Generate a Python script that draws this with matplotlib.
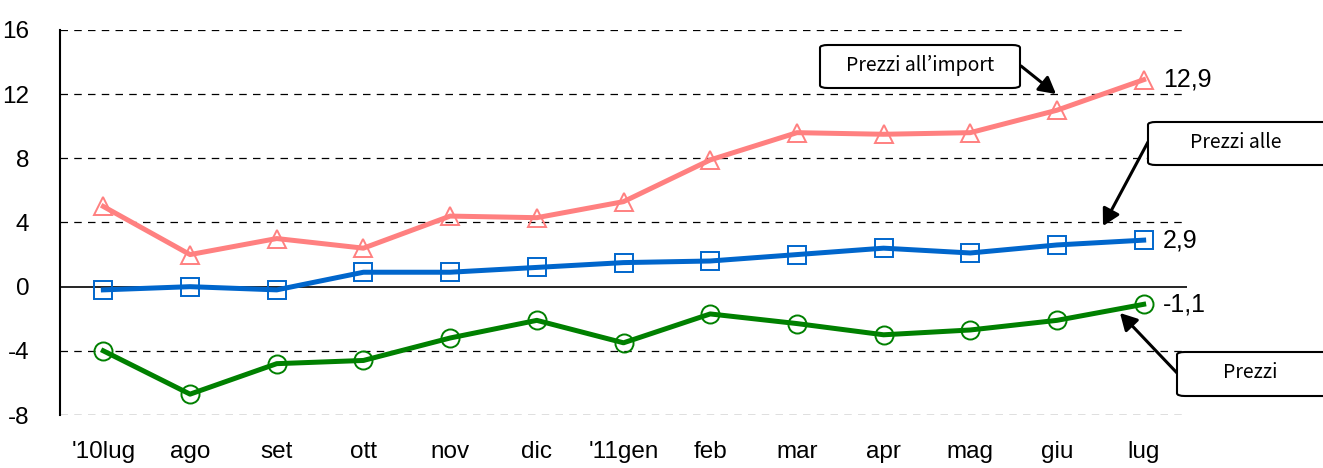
import matplotlib.pyplot as plt
from matplotlib.patches import FancyBboxPatch
from matplotlib.transforms import Bbox

months = ["'10lug", "ago", "set", "ott", "nov", "dic", "'11gen",
          "feb", "mar", "apr", "mag", "giu", "lug"]
import_prices = [5.0, 2.0, 3.0, 2.4, 4.4, 4.3, 5.3, 7.9, 9.6, 9.5, 9.6, 11.0, 12.9]
producer_prices = [-0.2, 0.0, -0.2, 0.9, 0.9, 1.2, 1.5, 1.6, 2.0, 2.4, 2.1, 2.6, 2.9]
export_prices = [-4.0, -6.7, -4.8, -4.6, -3.2, -2.1, -3.5, -1.7, -2.3, -3.0, -2.7, -2.1, -1.1]
yticks = [16, 12, 8, 4, 0, -4, -8]

W, H = 1323, 468
plt.rcParams['font.family'] = ['Liberation Sans', 'DejaVu Sans']

fig = plt.figure(figsize=(W / 100, H / 100), dpi=100)
ax = fig.add_axes([60 / W, 1 - 415 / H, (1187 - 60) / W, (415 - 30) / H])

x = list(range(len(months)))
ax.plot(x, import_prices, color='#FF8080', lw=3.6, marker='^', ms=13,
        mfc='none', mec='#FF8080', mew=1.4, zorder=3)
ax.plot(x, producer_prices, color='#0066CC', lw=3.6, marker='s', ms=13,
        mfc='none', mec='#0066CC', mew=1.4, zorder=3)
ax.plot(x, export_prices, color='#008000', lw=3.6, marker='o', ms=13,
        mfc='none', mec='#008000', mew=1.4, zorder=3)

ax.set_xlim(-0.5, len(months) - 0.5)
ax.set_ylim(-8, 16)
ax.set_yticks(yticks)
ax.set_yticklabels([str(v) for v in yticks])
ax.set_xticks(x)
ax.set_xticklabels(months)
ax.tick_params(axis='both', length=0, labelsize=17.5)
ax.tick_params(axis='y', pad=22)
ax.tick_params(axis='x', pad=19)

for v in yticks:
    if v == 0:
        ax.axhline(0, color='black', lw=1.2, zorder=2)
    else:
        ax.axhline(v, color='black', lw=0.9, dashes=(6, 5), zorder=1)

for s in ['top', 'right', 'bottom']:
    ax.spines[s].set_visible(False)
ax.spines['left'].set_linewidth(1.5)

# end values
ax.text(12.22, import_prices[-1], "12,9", fontsize=18, va='center', ha='left')
ax.text(12.22, producer_prices[-1], "2,9", fontsize=18, va='center', ha='left')
ax.text(12.22, export_prices[-1], "-1,1", fontsize=18, va='center', ha='left')


def fpx(px, py):
    return px / W, 1 - py / H


def callout(x0, y0, x1, y1, line1, line2, start, tip):
    box = FancyBboxPatch(fpx(x0, y1), (x1 - x0) / W, (y1 - y0) / H,
                         boxstyle="round,pad=0,rounding_size=0.006",
                         transform=fig.transFigure, fc='white', ec='black',
                         lw=1.5, zorder=5)
    fig.patches.append(box)
    cx = (x0 + min(x1, W)) / 2
    fig.text(*fpx(cx, y0 + 20), line1, fontsize=14, ha='center',
             va='center', zorder=6, family=['Noto Sans CJK JP', 'DejaVu Sans'])
    if line2:
        t = fig.text(*fpx(cx, y0 + 54), line2, fontsize=14, ha='center',
                     va='center', zorder=6,
                     family=['Noto Sans CJK JP', 'DejaVu Sans'])
        t.set_clip_box(Bbox([[x0, H - y1 + 2], [x1, H - y0]]))
        t.set_clip_on(True)
    ax.annotate('', xy=fpx(*tip), xycoords='figure fraction',
                xytext=fpx(*start), textcoords='figure fraction',
                arrowprops=dict(arrowstyle='-|>,head_length=1.0,head_width=0.55',
                                color='black', lw=2.2, shrinkA=0, shrinkB=0),
                annotation_clip=False, zorder=6)


callout(820, 45, 1020, 88, "Prezzi all\u2019import", None, (1021, 66), (1056, 94))
callout(1148, 122, 1340, 165, "Prezzi alle", "produzione", (1148, 142), (1103, 226))
callout(1177, 352, 1340, 396, "Prezzi", "all\u2019esportazione", (1178, 374), (1120, 313))

fig.savefig('out.png', dpi=100)
